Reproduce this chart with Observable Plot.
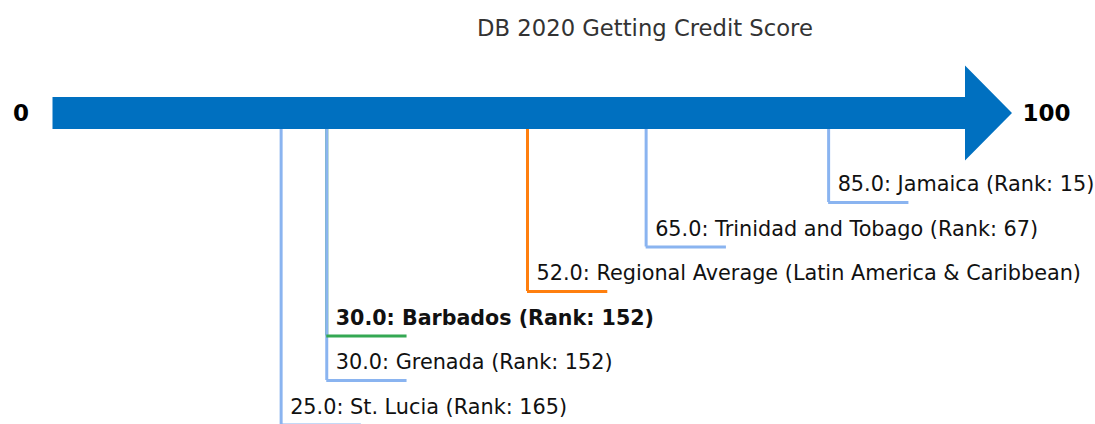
<!DOCTYPE html>
<html>
<head>
<meta charset="utf-8">
<script src="https://cdn.jsdelivr.net/npm/d3@7"></script>
<script src="https://cdn.jsdelivr.net/npm/@observablehq/plot@0.6"></script>
<style>
  html, body { margin: 0; padding: 0; background: #fff; }
  #wrap { position: relative; width: 1095px; height: 424px; overflow: hidden; font-family: "DejaVu Sans", sans-serif; }
  #title { position: absolute; left: 645px; top: 0; transform: translateX(-50%); height: 56px; line-height: 56px; font-size: 22.7px; color: #333; white-space: nowrap; }
  #chart { position: absolute; left: 0; top: 56px; }
</style>
</head>
<body>
<div id="wrap">
  <div id="title">DB 2020 Getting Credit Score</div>
  <div id="chart"></div>
</div>
<script>
// ---- data ----
const names = ["Jamaica", "Trinidad and Tobago", "Regional Average (Latin America & Caribbean)", "Barbados", "Grenada", "St. Lucia"];
const scores = [85.0, 65.0, 52.0, 30.0, 30.0, 25.0];
const ranks = [15, 67, null, 152, 152, 165];
const kinds = ["peer", "peer", "average", "focus", "peer", "peer"];
const rows = [2, 3, 4, 5, 6, 7];
const endValues = [0, 100];
const endLabels = ["0", "100"];

// ---- styles / geometry ----
const colors = {peer: "#8AB4F0", average: "#FF7F0E", focus: "#34A853"};
const arrowColor = "#0070C0";
const bodyHalf = 0.36;   // rows
const headHalf = 1.067;  // rows
const tipValue = 105.15; // score units
const leaderLen = 8.8;   // score units

const entries = names.map((n, i) => ({
  name: n, score: scores[i], rank: ranks[i], kind: kinds[i], row: rows[i],
  label: ranks[i] == null
    ? `${scores[i].toFixed(1)}: ${n}`
    : `${scores[i].toFixed(1)}: ${n} (Rank: ${ranks[i]})`
}));

const arrowPts = [
  {x: endValues[0], y1: -bodyHalf, y2: bodyHalf},
  {x: endValues[1], y1: -bodyHalf, y2: bodyHalf},
  {x: endValues[1], y1: -headHalf, y2: headHalf},
  {x: tipValue, y1: 0, y2: 0}
];

const chart = Plot.plot({
  width: 1095,
  height: 368,
  margin: 0,
  style: {fontFamily: "DejaVu Sans, sans-serif", background: "transparent", overflow: "visible"},
  x: {domain: [0, 100], range: [52.5, 965], axis: null},
  y: {domain: [0, 1], range: [57, 101.5], axis: null},
  marks: [
    Plot.ruleX(entries, {x: "score", y1: 0, y2: "row", stroke: d => colors[d.kind], strokeWidth: 3}),
    Plot.ruleY(entries, {y: "row", x1: "score", x2: d => d.score + leaderLen, stroke: d => colors[d.kind], strokeWidth: 3}),
    Plot.areaY(arrowPts, {x: "x", y1: "y1", y2: "y2", fill: arrowColor, curve: "linear"}),
    Plot.text(entries.filter(d => d.kind !== "focus"), {x: "score", y: "row", text: "label", dx: 9, dy: -18, textAnchor: "start", fontSize: 20.8, fill: "#111"}),
    Plot.text(entries.filter(d => d.kind === "focus"), {x: "score", y: "row", text: "label", dx: 9, dy: -18, textAnchor: "start", fontSize: 20.6, fontWeight: "bold", fill: "#111"}),
    Plot.text([endValues[0]], {x: d => d, y: 0, text: [endLabels[0]], dx: -32, textAnchor: "middle", fontSize: 23, fontWeight: "bold", fill: "#000"}),
    Plot.text([endValues[1]], {x: d => d, y: 0, text: [endLabels[1]], dx: 57, textAnchor: "start", fontSize: 23, fontWeight: "bold", fill: "#000"})
  ]
});
document.getElementById("chart").appendChild(chart);
</script>
</body>
</html>
